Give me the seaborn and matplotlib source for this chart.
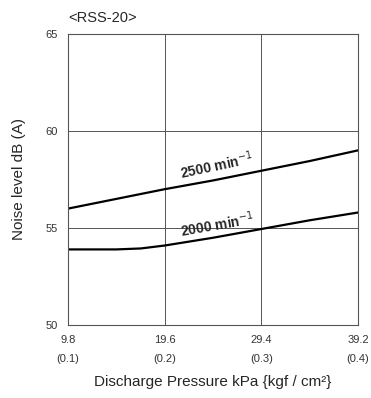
import matplotlib
matplotlib.use("Agg")
import matplotlib.pyplot as plt
import pandas as pd
import seaborn as sns

# Discharge pressure (kPa) and noise level (dB(A))
pressure = [9.8, 14.7, 19.6, 24.5, 29.4, 34.3, 39.2]
noise_2500 = [56.0, 56.5, 57.0, 57.45, 57.95, 58.45, 59.0]
pressure_2000 = [9.8, 14.7, 17.2, 19.6, 24.5, 29.4, 34.3, 39.2]
noise_2000 = [53.9, 53.9, 53.95, 54.1, 54.5, 54.95, 55.4, 55.8]

x_ticks = [9.8, 19.6, 29.4, 39.2]
x_tick_kgf = ["(0.1)", "(0.2)", "(0.3)", "(0.4)"]
y_ticks = [50, 55, 60, 65]

df = pd.concat([
    pd.DataFrame({"pressure": pressure, "noise": noise_2500, "speed": "2500"}),
    pd.DataFrame({"pressure": pressure_2000, "noise": noise_2000, "speed": "2000"}),
])

sns.set_style("white")
plt.rcParams['font.family'] = ['Liberation Sans', 'DejaVu Sans']

fig = plt.figure(figsize=(3.71, 3.98), dpi=100)
ax = fig.add_axes([0.183, 0.183, 0.782, 0.732])

sns.lineplot(data=df, x="pressure", y="noise", hue="speed",
             palette={"2500": "black", "2000": "black"},
             linewidth=1.6, legend=False, ax=ax)

# grid
for gx in x_ticks[1:-1]:
    ax.axvline(gx, color="#555555", linewidth=0.7, zorder=0)
for gy in y_ticks[1:-1]:
    ax.axhline(gy, color="#555555", linewidth=0.7, zorder=0)

ax.set_xlim(9.8, 39.2)
ax.set_ylim(50, 65)
ax.set_xticks(x_ticks)
ax.set_xticklabels([f"{t}\n{k}" for t, k in zip(x_ticks, x_tick_kgf)],
                   linespacing=2.1)
ax.set_yticks(y_ticks)
ax.tick_params(axis="both", length=0, labelsize=8, colors="#333333")
ax.tick_params(axis="x", pad=7)
ax.tick_params(axis="y", pad=7)

for s in ax.spines.values():
    s.set_color("#555555")
    s.set_linewidth(0.8)

ax.set_xlabel("Discharge Pressure kPa {kgf / cm²}", fontsize=11,
              labelpad=8)
ax.set_ylabel("Noise level dB (A)", fontsize=11, labelpad=14)

ax.text(24.9, 57.35, "2500 min$^{-1}$", fontsize=10, rotation=12,
        ha="center", va="bottom", fontweight="bold")
ax.text(24.9, 54.38, "2000 min$^{-1}$", fontsize=10, rotation=10,
        ha="center", va="bottom", fontweight="bold")

fig.text(68 / 371, 1 - 18 / 398, "<RSS-20>", fontsize=10.5, ha="left",
         va="center")

fig.savefig("out.png", dpi=100)
